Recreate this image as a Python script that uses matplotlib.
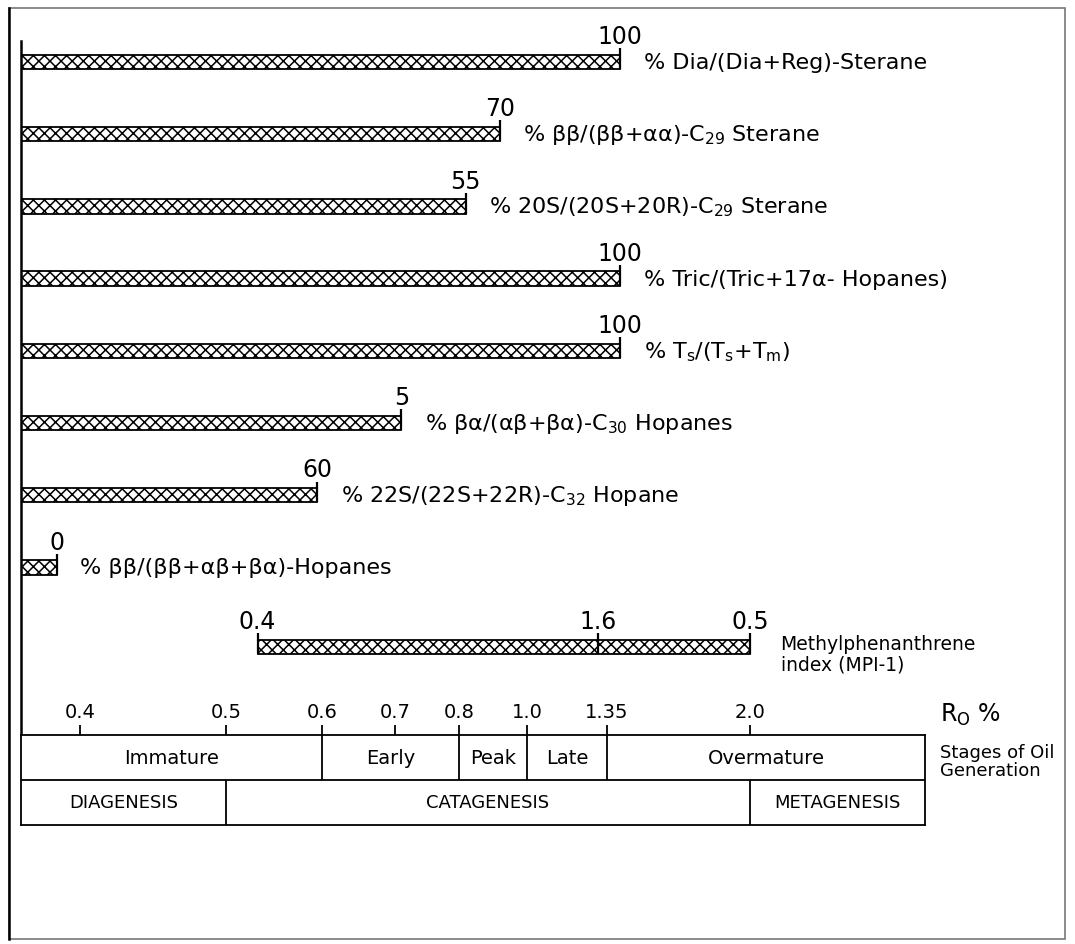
import numpy as np
import matplotlib.pyplot as plt
from matplotlib.patches import Rectangle
from matplotlib.lines import Line2D

plt.rcParams['font.family'] = 'DejaVu Sans'
plt.rcParams['mathtext.fontset'] = 'dejavusans'
plt.rcParams['mathtext.default'] = 'regular'
plt.rcParams['hatch.linewidth'] = 1.1

### data
labels = ['% Dia/(Dia+Reg)-Sterane',
          r'% ββ/(ββ+αα)-C$_{29}$ Sterane',
          r'% 20S/(20S+20R)-C$_{29}$ Sterane',
          '% Tric/(Tric+17α- Hopanes)',
          r'% T$_{s}$/(T$_{s}$+T$_{m}$)',
          r'% βα/(αβ+βα)-C$_{30}$ Hopanes',
          r'% 22S/(22S+22R)-C$_{32}$ Hopane',
          '% ββ/(ββ+αβ+βα)-Hopanes']
ratio_pct = [100, 70, 55, 100, 100, 5, 60, 0]
ro_end = [1.41, 0.92, 0.82, 1.41, 1.41, 0.71, 0.595, 0.384]   # Ro where ratio reached

mpi_ro = [0.533, 1.31, 2.0]
mpi_val = ['0.4', '1.6', '0.5']

ro_ticks = [0.4, 0.5, 0.6, 0.7, 0.8, 1.0, 1.35, 2.0]
ro_ticklabels = ['0.4', '0.5', '0.6', '0.7', '0.8', '1.0', '1.35', '2.0']
oil_stages = ['Immature', 'Early', 'Peak', 'Late', 'Overmature']
oil_edges = [0.6, 0.8, 1.0, 1.35]
zones = ['DIAGENESIS', 'CATAGENESIS', 'METAGENESIS']
zone_edges = [0.5, 2.0]

### layout: the Ro scale is hand drawn (non linear), pixel pos of each tick
W, H = 1075, 945
tick_px = [80, 226, 322, 395, 459, 527, 607, 750]
knot_ro = [0.3] + ro_ticks + [3.0]
knot_px = [tick_px[0] - (tick_px[1] - tick_px[0])] + tick_px + \
          [tick_px[-1] + (tick_px[-1] - tick_px[-2]) / 0.65]

def fwd(x):
    return np.interp(x, knot_ro, knot_px)

def inv(p):
    return np.interp(p, knot_px, knot_ro)

fig = plt.figure(figsize=(W / 100, H / 100), dpi=100)

def px_axes(l, t, r, b):
    return fig.add_axes([l / W, 1 - b / H, (r - l) / W, (b - t) / H])

left_px, right_px = 21, 925
ax1 = px_axes(left_px, 42, right_px, 736)
ax2 = px_axes(left_px, 736, right_px, 826)
for ax in (ax1, ax2):
    ax.set_xscale('function', functions=(fwd, inv))
    ax.set_xlim(inv(left_px), inv(right_px))
x0 = inv(left_px)

### biomarker bars
rows = np.arange(len(labels))
bar_h = 0.2
ax1.barh(rows, np.array(ro_end) - x0, left=x0, height=bar_h, color='white',
         edgecolor='black', hatch='xxx', lw=1.3)
ax1.vlines(ro_end, rows + bar_h / 2, rows - bar_h / 2 - 0.09, color='black', lw=1.6)
for i in rows:
    ax1.text(ro_end[i], rows[i] - 0.26, str(ratio_pct[i]), ha='center',
             va='baseline', fontsize=17)
    ax1.annotate(labels[i], (ro_end[i], rows[i]), xytext=(17, 0),
                 textcoords='offset points', va='center', fontsize=16)

### MPI bar
mpi_row = 8.1
ax1.barh(mpi_row, mpi_ro[-1] - mpi_ro[0], left=mpi_ro[0], height=bar_h,
         color='white', edgecolor='black', hatch='xxx', lw=1.3)
ax1.vlines(mpi_ro, mpi_row + bar_h / 2, mpi_row - bar_h / 2 - 0.09,
           color='black', lw=1.6)
for r, v in zip(mpi_ro, mpi_val):
    ax1.text(r, mpi_row - 0.26, v, ha='center', va='baseline', fontsize=17)
ax1.annotate('Methylphenanthrene\nindex (MPI-1)', (mpi_ro[-1], mpi_row),
             xytext=(22, -5), textcoords='offset points', va='center',
             fontsize=13.5, linespacing=1.05)

ax1.set_ylim(9.32, -0.29)
for s in ['top', 'right', 'bottom']:
    ax1.spines[s].set_visible(False)
ax1.spines['left'].set_linewidth(1.8)
ax1.set_xticks([])
ax1.set_yticks([])
ax1.patch.set_alpha(0)

### stages box
ax2.set_ylim(2, 0)
ax2.axhline(1, color='black', lw=1.3)
ax2.vlines(oil_edges, 0, 1, color='black', lw=1.3)
ax2.vlines(zone_edges, 1, 2, color='black', lw=1.3)
for s in ax2.spines.values():
    s.set_linewidth(1.3)
ax2.xaxis.tick_top()
ax2.set_xticks(ro_ticks, ro_ticklabels)
ax2.tick_params(axis='x', direction='out', length=7, width=1.3,
                labelsize=14, pad=3)
ax2.set_yticks([])
xl, xr = ax2.get_xlim()

e = [xl] + oil_edges + [xr]
for k, name in enumerate(oil_stages):
    c = inv((fwd(e[k]) + fwd(e[k + 1])) / 2)
    ax2.text(c, 0.5, name, ha='center', va='center', fontsize=14)
e = [xl] + zone_edges + [xr]
for k, name in enumerate(zones):
    c = inv((fwd(e[k]) + fwd(e[k + 1])) / 2)
    ax2.text(c, 1.5, name, ha='center', va='center', fontsize=13)

fig.text(940 / W, 1 - 715 / H, r'R$_{\mathrm{O}}$ %', fontsize=17, va='center')
fig.text(940 / W, 1 - 762 / H, 'Stages of Oil\nGeneration', fontsize=13,
         va='center', linespacing=0.95)

### outer frame
fig.add_artist(Rectangle((9 / W, 1 - 940 / H), (1065 - 9) / W, (940 - 9) / H,
                         transform=fig.transFigure, fill=False, ec='#777', lw=1.2))
fig.add_artist(Line2D([9 / W, 9 / W], [1 - 940 / H, 1 - 9 / H],
                      transform=fig.transFigure, color='black', lw=1.8))

fig.savefig('out.png', dpi=100)
